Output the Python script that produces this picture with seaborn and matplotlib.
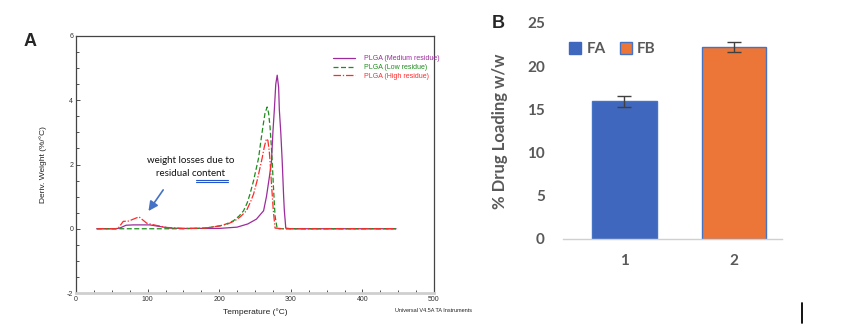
import numpy as np
import pandas as pd
import seaborn as sns
import matplotlib
matplotlib.use("Agg")
import matplotlib.pyplot as plt
from matplotlib.lines import Line2D
from matplotlib.patches import Patch
from matplotlib.ticker import MultipleLocator

# ---------------- data ----------------
# Panel A: derivative weight curves (Temperature °C, %/°C)
med_T = [29, 55, 61, 70, 80, 89, 103, 117, 131, 150, 200, 225, 240, 252, 262, 266, 270, 273, 275, 277, 279, 281, 283, 284, 286, 288, 290, 291, 293, 300, 350, 400, 447]
med_y = [0, 0, 0.02, 0.11, 0.12, 0.12, 0.12, 0.07, 0.02, 0.01, 0.01, 0.05, 0.15, 0.3, 0.56, 1.0, 1.6, 2.1, 3.0, 3.7, 4.5, 4.78, 4.4, 3.7, 3.0, 2.1, 1.0, 0.56, 0.02, 0, 0, 0, 0]

low_T = [29, 100, 150, 180, 201, 210, 220, 228, 234, 239, 243, 248, 252, 255, 258, 261, 264, 267, 269, 271, 273, 274, 276, 278, 281, 290, 350, 447]
low_y = [0, 0, 0, 0.02, 0.09, 0.15, 0.25, 0.4, 0.56, 0.8, 1.08, 1.5, 1.9, 2.2, 2.7, 3.17, 3.6, 3.79, 3.6, 3.17, 2.5, 2.1, 1.2, 0.4, 0.0, 0, 0, 0]

high_T = [29, 55, 59, 66, 74, 78, 88, 99, 113, 127, 150, 180, 201, 212, 222, 230, 238, 244, 248, 253, 257, 260, 263, 266, 268, 270, 271, 273, 275.6, 278, 290, 350, 447]
high_y = [0, 0, 0.02, 0.23, 0.24, 0.28, 0.37, 0.17, 0.1, 0.04, 0.01, 0.02, 0.09, 0.15, 0.25, 0.38, 0.56, 0.85, 1.08, 1.5, 1.9, 2.2, 2.55, 2.8, 2.75, 2.4, 2.1, 1.4, 0.56, 0.02, 0, 0, 0]

series_labels = ["PLGA (Medium residue)", "PLGA (Low residue)", "PLGA (High residue)"]

# Panel B: drug loading
formulations = ["FA", "FB"]
bar_ticks = ["1", "2"]
loading = [15.95, 22.2]
loading_err = [0.65, 0.6]

# ---------------- figure ----------------
sns.set_style("white")
plt.rcParams['font.family'] = ['Liberation Sans', 'DejaVu Sans']
plt.rcParams['axes.unicode_minus'] = False
fig = plt.figure(figsize=(8.51, 3.26), dpi=100)
W, H = 851, 326

def fx(px):
    return px / W

def fy(py):
    return 1 - py / H

# ---------- Panel A ----------
axA = fig.add_axes([fx(76), fy(293), fx(434) - fx(76), fy(36) - fy(293)])
purple = "#9B2C9B"
green = "#1E8C1E"
red = "#FF2A2A"
dash_g = (0, (4, 2))
dash_r = (0, (6, 1.5, 1, 1.5))
sns.lineplot(x=med_T, y=med_y, ax=axA, color=purple, lw=0.9, linestyle="-", sort=False)
sns.lineplot(x=low_T, y=low_y, ax=axA, color=green, lw=0.9, linestyle=dash_g, sort=False)
sns.lineplot(x=high_T, y=high_y, ax=axA, color=red, lw=0.9, linestyle=dash_r, sort=False)
axA.set_xlim(0, 500)
axA.set_ylim(-2, 6)
axA.xaxis.set_major_locator(MultipleLocator(100))
axA.xaxis.set_minor_locator(MultipleLocator(25))
axA.yaxis.set_major_locator(MultipleLocator(2))
axA.yaxis.set_minor_locator(MultipleLocator(0.5))
axA.tick_params(which="both", direction="in", labelsize=5, colors="#333333", width=0.6,
                top=False, right=False, bottom=True, left=True)
axA.tick_params(which="major", length=3)
axA.tick_params(which="minor", length=2)
axA.tick_params(axis="y", pad=2)
axA.tick_params(axis="x", pad=2)
for s in ["left", "top", "right"]:
    axA.spines[s].set_color("#444444")
    axA.spines[s].set_linewidth(0.9)
axA.spines["bottom"].set_color("#cfcfcf")
axA.spines["bottom"].set_linewidth(2)
axA.set_xlabel("Temperature (°C)", fontsize=6, labelpad=4, color="#222222")
axA.set_ylabel("Deriv. Weight (%/°C)", fontsize=6, labelpad=14, color="#222222")

leg_handles = [
    Line2D([], [], color=purple, lw=0.9, linestyle="-"),
    Line2D([], [], color=green, lw=0.9, linestyle=dash_g),
    Line2D([], [], color=red, lw=0.9, linestyle=dash_r),
]
legA = axA.legend(leg_handles, series_labels, loc="upper left", bbox_to_anchor=(0.71, 0.935),
                  frameon=False, fontsize=5, handlelength=3.2, handletextpad=1.2,
                  labelspacing=0.22, borderaxespad=0)
for t, c in zip(legA.get_texts(), [purple, green, red]):
    t.set_color(c)

fig.text(fx(191), fy(167), "weight losses due to\nresidual content", ha="center", va="center",
         fontsize=7, family=["Lato", "DejaVu Sans"], linespacing=1.55, color="#111111")
fig.add_artist(Line2D([fx(196), fx(228)], [fy(179.5), fy(179.5)], color="#2255CC", lw=0.8))
fig.add_artist(Line2D([fx(196), fx(228)], [fy(181.5), fy(181.5)], color="#2255CC", lw=0.8))
axA.annotate("", xy=(99, 0.48), xytext=(124, 1.28),
             arrowprops=dict(arrowstyle="-|>", color="#4472C4", lw=1.2, mutation_scale=14))

fig.text(fx(30), fy(42), "A", fontsize=13, fontweight="bold", ha="center", va="center")
fig.text(fx(472), fy(311), "Universal V4.5A TA Instruments", fontsize=4, ha="right", va="center",
         color="#222222")

# ---------- Panel B ----------
axB = fig.add_axes([fx(563), fy(239), fx(782) - fx(563), fy(23) - fy(239)])
blue = "#3F67BD"
orange = "#EC7637"
dfB = pd.DataFrame({"form": formulations, "loading": loading})
sns.barplot(data=dfB, x="form", y="loading", hue="form", palette=[blue, orange],
            saturation=1, width=0.59, errorbar=None, legend=False, ax=axB,
            edgecolor="#4472C4", linewidth=1.0)
axB.errorbar(x=[0, 1], y=loading, yerr=loading_err, fmt="none", ecolor="#404040",
             elinewidth=1.0, capsize=5, capthick=1.0)
axB.set_xlim(-0.56, 1.44)
axB.set_ylim(0, 25)
axB.set_yticks([0, 5, 10, 15, 20, 25])
axB.set_xticks([0, 1])
axB.set_xticklabels(bar_ticks)
bold_font = ["Lato", "DejaVu Sans"]
for lab in axB.get_xticklabels() + axB.get_yticklabels():
    lab.set_family(bold_font)
    lab.set_fontweight("bold")
    lab.set_fontsize(11)
    lab.set_color("#595959")
axB.tick_params(axis="y", length=0, pad=13)
axB.tick_params(axis="x", length=0, pad=11)
for s in ["left", "top", "right"]:
    axB.spines[s].set_visible(False)
axB.spines["bottom"].set_color("#d0d0d0")
axB.spines["bottom"].set_linewidth(1.0)
axB.set_xlabel("")
axB.set_ylabel("% Drug Loading w/w", fontsize=12, fontweight="bold", family=bold_font,
               color="#595959", labelpad=14)

handlesB = [Patch(facecolor=blue, edgecolor=blue), Patch(facecolor=orange, edgecolor="#4472C4")]
legB = axB.legend(handlesB, formulations, loc="upper left", bbox_to_anchor=(0.0, 0.94), ncol=2,
                  frameon=False, handlelength=0.8, handleheight=0.8, handletextpad=0.35,
                  columnspacing=0.9, borderaxespad=0,
                  prop={"family": bold_font, "weight": "bold", "size": 11})
for t in legB.get_texts():
    t.set_color("#595959")

fig.text(fx(498), fy(24), "B", fontsize=13, fontweight="bold", ha="center", va="center")

# small vertical mark bottom right
fig.add_artist(Line2D([fx(802), fx(802)], [fy(303), fy(323)], color="black", lw=1.3))

fig.savefig("out.png", dpi=100)
